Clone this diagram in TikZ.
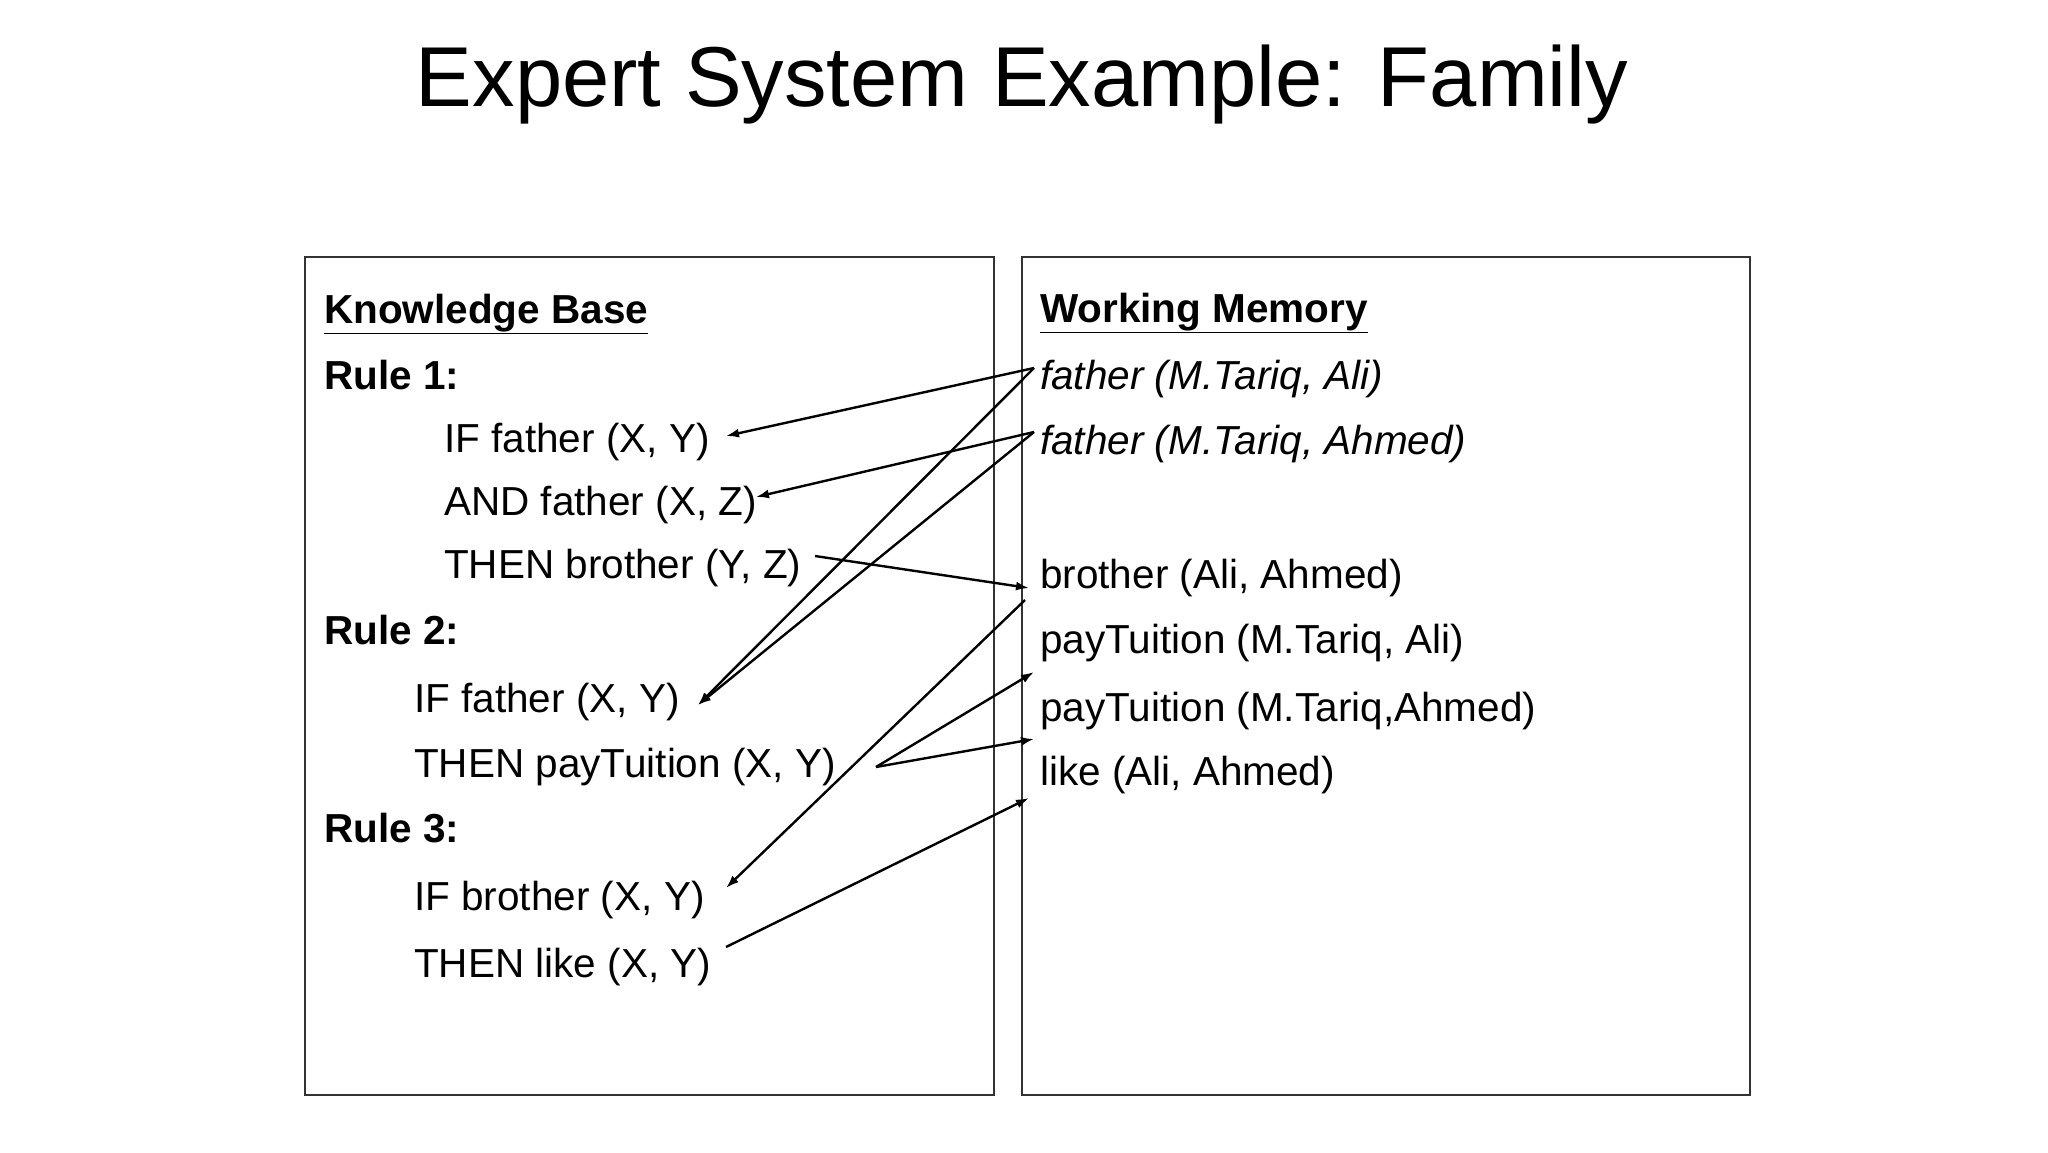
\documentclass[tikz,border=0pt]{standalone}
\usepackage{fontspec}
\setmainfont{Liberation Sans}
\usetikzlibrary{arrows}
\usetikzlibrary{arrows.meta}
\usetikzlibrary{positioning}
\tikzset{
  txt/.style={anchor=base west, inner sep=0pt, font=\fontsize{40.5}{44}\selectfont},
  hdr/.style={txt, font=\fontsize{40.5}{44}\selectfont\bfseries},
  fact/.style={txt, font=\fontsize{40.5}{44}\selectfont\itshape},
  panel/.style={draw, line width=2pt, black!80}
}

\begin{document}
\begin{tikzpicture}[x=1pt, y=-1pt, ->, >={Latex[length=13pt,width=9pt]},
      line width=2.4pt]

    \useasboundingbox (0,0) rectangle (2048,1152);

    \node[font=\fontsize{85}{90}\selectfont]
      (Title) at (1022,85) {Expert System Example: Family};

    \draw[panel,-] (305,257) rectangle (994,1095);
    \draw[panel,-] (1022,257) rectangle (1750,1095);

    % knowledge base
    \node[hdr] (KB) at (323,323) {\underline{Knowledge Base}};
    \node[hdr] (RuleOne) at (323,389) {Rule 1:};
    \node[txt] (IfFatherXY) at (443,452) {IF father (X, Y)};
    \node[txt] (AndFatherXZ) at (443,515) {AND father (X, Z)};
    \node[txt] (ThenBrother) at (443,578) {THEN brother (Y, Z)};
    \node[hdr] (RuleTwo) at (323,644) {Rule 2:};
    \node[txt] (IfFather) at (413,712) {IF father (X, Y)};
    \node[txt] (ThenPay) at (413,777) {THEN payTuition (X, Y)};
    \node[hdr] (RuleThree) at (323,842) {Rule 3:};
    \node[txt] (IfBrother) at (413,910) {IF brother (X, Y)};
    \node[txt] (ThenLike) at (413,977) {THEN like (X, Y)};

    % working memory
    \node[hdr] (WM) at (1039,322) {\underline{Working Memory}};
    \node[fact] (FatherAli) at (1039,389) {father (M.Tariq, Ali)};
    \node[fact] (FatherAhmed) at (1039,454) {father (M.Tariq, Ahmed)};
    \node[txt] (BrotherAA) at (1039,588) {brother (Ali, Ahmed)};
    \node[txt] (PayAli) at (1039,653) {payTuition (M.Tariq, Ali)};
    \node[txt] (PayAhmed) at (1039,721) {payTuition (M.Tariq,Ahmed)};
    \node[txt] (LikeAA) at (1039,785) {like (Ali, Ahmed)};

    \coordinate (fa) at (1034,368);
    \coordinate (fb) at (1034,432);
    \coordinate (r1a) at (726,436);
    \coordinate (r1b) at (756,497);
    \coordinate (r1c) at (815,556);
    \coordinate (br) at (1029,588);
    \coordinate (brOut) at (1025,600);
    \coordinate (r2a) at (698,705);
    \coordinate (r2b) at (876,767);
    \coordinate (pa) at (1034,672);
    \coordinate (pb) at (1034,739);
    \coordinate (r3a) at (726,888);
    \coordinate (r3b) at (726,947);
    \coordinate (lk) at (1029,798);

    \draw (fa) -- (r1a);
    \draw (fb) -- (r1b);
    \draw (fa) -- (r2a);
    \draw (fb) -- (r2a);
    \draw (r1c) -- (br);
    \draw (brOut) -- (r3a);
    \draw (r2b) -- (pa);
    \draw (r2b) -- (pb);
    \draw (r3b) -- (lk);

  \end{tikzpicture}
\end{document}
